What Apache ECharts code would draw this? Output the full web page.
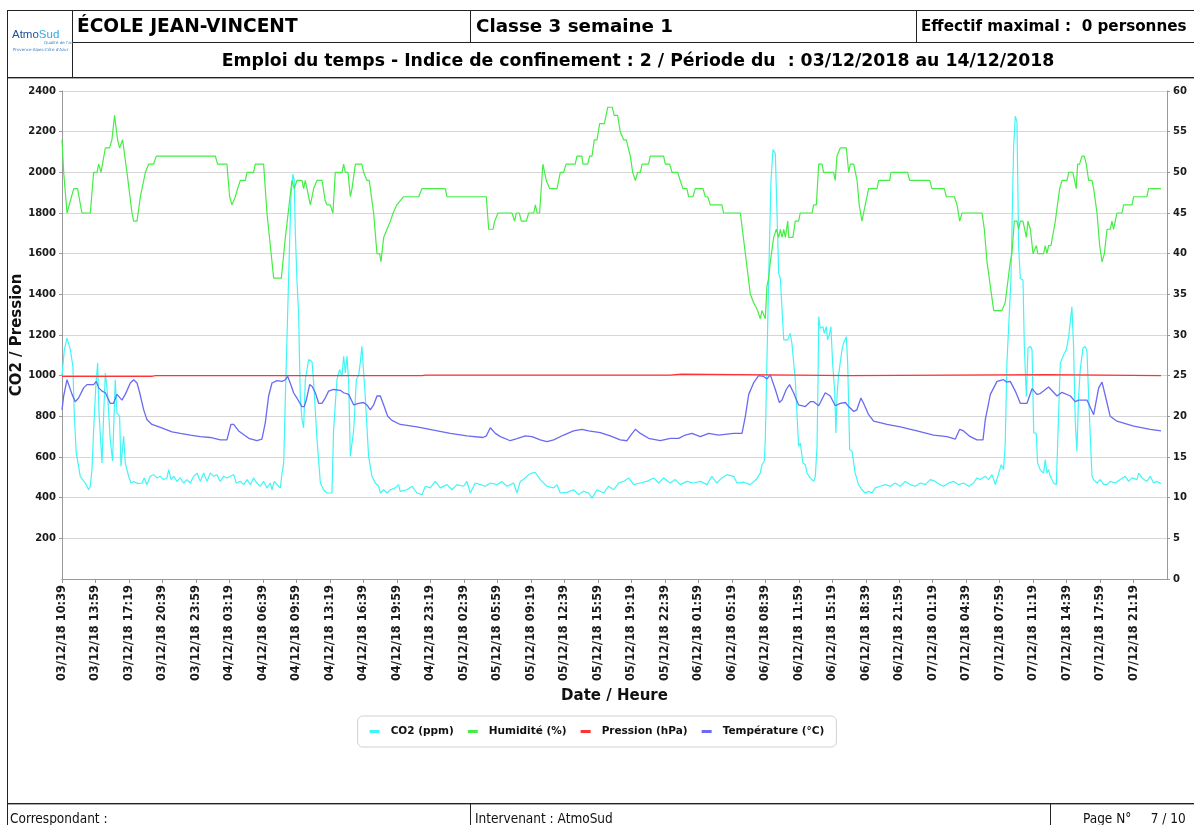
<!DOCTYPE html>
<html>
<head>
<meta charset="utf-8">
<script src="https://cdn.jsdelivr.net/npm/echarts@6/dist/echarts.min.js"></script>
<style>
html,body{margin:0;padding:0;background:#fff;}
body{width:1194px;height:825px;position:relative;overflow:hidden;font-family:"DejaVu Sans",Verdana,sans-serif;}
#chart{position:absolute;left:0;top:0;width:1194px;height:825px;}
.ln{position:absolute;background:#222;}
.sh{position:absolute;background:#aaa;}
.t{position:absolute;white-space:pre;color:#000;}
.b{font-weight:bold;}
.ft{font-family:"DejaVu Sans Condensed","DejaVu Sans",sans-serif;font-size:13.5px;color:#111;}
</style>
</head>
<body>
<div id="chart"></div>

<!-- header / footer frame -->
<div class="ln" style="left:7px;top:10px;width:1187px;height:1px"></div>
<div class="ln" style="left:72px;top:42px;width:1122px;height:1px"></div>
<div class="ln" style="left:7px;top:77px;width:1187px;height:1px"></div>
<div class="sh" style="left:8px;top:78px;width:1186px;height:1px"></div>
<div class="ln" style="left:7px;top:10px;width:1px;height:815px"></div>
<div class="ln" style="left:72px;top:10px;width:1px;height:67px"></div>
<div class="ln" style="left:470px;top:10px;width:1px;height:32px"></div>
<div class="ln" style="left:916px;top:10px;width:1px;height:32px"></div>
<div class="ln" style="left:7px;top:803px;width:1187px;height:1px"></div>
<div class="sh" style="left:8px;top:804px;width:1186px;height:1px"></div>
<div class="ln" style="left:470px;top:803px;width:1px;height:22px"></div>
<div class="ln" style="left:1050px;top:803px;width:1px;height:22px"></div>

<!-- logo -->
<div class="t" style="left:12px;top:28px;font-family:'Liberation Sans',Arial,sans-serif;font-size:11.5px;line-height:13px;"><span style="color:#1d4f9a">Atmo</span><span style="color:#36a8e0">Sud</span></div>
<div class="t" style="left:44px;top:40px;font-size:4px;color:#3a7fbf;line-height:5px;">Qualité de l'air</div>
<div class="t" style="left:13px;top:47px;font-size:4px;color:#3a7fbf;line-height:5px;">Provence-Alpes-Côte d'Azur</div>

<div class="t b" style="left:77px;top:10px;height:32px;line-height:32px;font-size:18.6px;">ÉCOLE JEAN-VINCENT</div>
<div class="t b" style="left:476px;top:10px;height:32px;line-height:32px;font-size:18.3px;">Classe 3 semaine 1</div>
<div class="t b" style="left:921px;top:10px;height:32px;line-height:32px;font-size:15.2px;">Effectif maximal :  0 personnes</div>
<div class="t b" style="left:72px;width:1132px;text-align:center;top:43px;height:34px;line-height:34px;font-size:17.3px;">Emploi du temps - Indice de confinement : 2 / Période du  : 03/12/2018 au 14/12/2018</div>

<div class="t ft" style="left:10px;top:809px;line-height:18px;">Correspondant :</div>
<div class="t ft" style="left:475px;top:809px;line-height:18px;">Intervenant : AtmoSud</div>
<div class="t ft" style="left:1083px;top:809px;line-height:18px;">Page N°     7 / 10</div>

<script>
// x values are minutes elapsed since 03/12/18 10:39
const tickLabels = ["03/12/18 10:39","03/12/18 13:59","03/12/18 17:19","03/12/18 20:39","03/12/18 23:59",
"04/12/18 03:19","04/12/18 06:39","04/12/18 09:59","04/12/18 13:19","04/12/18 16:39","04/12/18 19:59","04/12/18 23:19",
"05/12/18 02:39","05/12/18 05:59","05/12/18 09:19","05/12/18 12:39","05/12/18 15:59","05/12/18 19:19","05/12/18 22:39",
"06/12/18 01:59","06/12/18 05:19","06/12/18 08:39","06/12/18 11:59","06/12/18 15:19","06/12/18 18:39","06/12/18 21:59",
"07/12/18 01:19","07/12/18 04:39","07/12/18 07:59","07/12/18 11:19","07/12/18 14:39","07/12/18 17:59","07/12/18 21:19"];

const seriesNames = ["CO2 (ppm)","Humidité (%)","Pression (hPa)","Température (°C)"];

const co2Data = [[0,1000],[14,1128],[30,1185],[50,1128],[65,1046],[73,816],[85,620],[99,554],[109,505],[139,472],[159,439],[169,456],[179,538],[189,734],[203,964],[213,1062],[221,816],[239,570],[249,816],[259,1013],[269,1005],[273,898],[288,685],[302,580],[318,980],[328,816],[344,800],[352,554],[368,702],[378,570],[398,505],[412,472],[428,480],[452,469],[478,472],[491,497],[507,464],[527,505],[547,513],[567,497],[587,505],[607,489],[627,497],[637,538],[651,489],[667,505],[687,480],[706,497],[726,472],[746,489],[766,472],[786,505],[806,521],[826,480],[846,521],[866,480],[886,521],[905,505],[925,513],[945,480],[965,505],[985,497],[1005,505],[1025,513],[1041,472],[1065,480],[1085,464],[1105,489],[1125,464],[1144,497],[1164,472],[1184,456],[1204,480],[1224,448],[1244,472],[1254,439],[1268,480],[1284,464],[1304,448],[1314,521],[1324,570],[1334,898],[1353,1470],[1367,1879],[1379,1991],[1387,1961],[1393,1716],[1403,1470],[1413,1307],[1423,898],[1433,784],[1443,743],[1453,980],[1473,1079],[1493,1070],[1503,964],[1523,685],[1543,472],[1562,439],[1582,423],[1612,423],[1622,734],[1642,980],[1658,1030],[1672,997],[1682,1095],[1692,1013],[1702,1095],[1712,964],[1722,603],[1732,595],[1742,734],[1758,980],[1772,1005],[1781,1062],[1791,1144],[1801,1136],[1811,898],[1831,603],[1851,505],[1871,472],[1891,456],[1901,423],[1921,439],[1941,423],[1961,439],[1990,448],[2010,464],[2020,431],[2060,439],[2090,456],[2120,423],[2150,415],[2170,456],[2199,448],[2229,480],[2259,448],[2299,464],[2329,439],[2359,464],[2398,456],[2418,480],[2438,423],[2468,472],[2498,464],[2528,456],[2558,472],[2598,464],[2627,480],[2657,456],[2697,472],[2717,423],[2737,480],[2767,497],[2787,513],[2807,521],[2826,525],[2856,489],[2896,456],[2936,448],[2956,464],[2976,423],[3016,426],[3055,439],[3085,415],[3115,431],[3145,423],[3165,398],[3195,439],[3235,423],[3264,456],[3294,439],[3324,472],[3354,480],[3384,497],[3414,464],[3454,472],[3493,480],[3533,497],[3563,472],[3593,497],[3633,472],[3662,489],[3692,464],[3732,480],[3772,472],[3812,480],[3852,464],[3881,505],[3911,472],[3941,497],[3971,513],[4011,505],[4031,472],[4071,476],[4110,464],[4146,489],[4170,521],[4180,562],[4194,579],[4200,685],[4220,1470],[4234,1961],[4246,2112],[4260,2092],[4270,1800],[4280,1503],[4290,1478],[4300,1478],[4310,1176],[4320,1168],[4334,1176],[4349,1208],[4359,1159],[4379,979],[4399,653],[4409,669],[4425,570],[4439,562],[4449,521],[4469,497],[4489,480],[4499,505],[4509,652],[4515,980],[4519,1290],[4528,1233],[4544,1241],[4552,1208],[4564,1241],[4572,1176],[4584,1208],[4592,1241],[4602,1061],[4614,931],[4622,718],[4628,898],[4638,1005],[4648,997],[4658,1128],[4668,1161],[4684,1192],[4692,1062],[4704,636],[4718,628],[4728,620],[4737,521],[4757,464],[4777,439],[4797,423],[4817,431],[4837,423],[4857,448],[4887,456],[4917,464],[4947,456],[4976,472],[5006,456],[5036,480],[5066,464],[5096,456],[5126,472],[5156,464],[5185,489],[5215,480],[5245,464],[5265,456],[5295,472],[5325,480],[5355,464],[5384,472],[5414,456],[5444,472],[5464,497],[5484,489],[5514,505],[5534,489],[5554,513],[5574,464],[5594,521],[5609,562],[5623,538],[5633,669],[5643,1062],[5667,1470],[5683,2125],[5693,2276],[5703,2248],[5713,1634],[5723,1478],[5739,1470],[5747,1143],[5759,898],[5769,1136],[5783,1144],[5793,1128],[5803,718],[5818,718],[5826,570],[5842,538],[5862,521],[5872,587],[5882,521],[5892,538],[5902,505],[5922,472],[5938,464],[5952,816],[5962,1062],[5982,1103],[5998,1128],[6012,1193],[6031,1339],[6041,1143],[6051,775],[6061,628],[6071,898],[6081,1030],[6097,1136],[6111,1144],[6121,1120],[6131,898],[6151,505],[6161,489],[6181,472],[6201,489],[6221,464],[6241,464],[6260,480],[6290,472],[6320,489],[6350,505],[6370,480],[6390,497],[6420,489],[6430,521],[6450,497],[6479,480],[6499,505],[6519,472],[6539,480],[6563,469]];

const humData = [[0,54],[10,50],[30,45],[40,45],[70,48],[93,48],[119,45],[169,45],[189,50],[209,50],[219,51],[233,50],[259,53],[284,53],[298,54],[308,54],[314,57],[324,57],[332,54],[344,53],[362,54],[388,50],[418,45],[428,44],[448,44],[468,47],[498,50],[517,51],[547,51],[563,52],[916,52],[929,51],[985,51],[1001,47],[1015,46],[1035,47],[1049,48],[1065,49],[1095,49],[1105,50],[1144,50],[1154,51],[1204,51],[1224,45],[1254,39],[1264,37],[1310,37],[1334,42],[1344,42],[1373,49],[1387,48],[1403,49],[1433,49],[1443,48],[1453,49],[1463,49],[1483,46],[1503,48],[1523,49],[1553,49],[1572,46.5],[1582,46],[1602,46],[1618,45],[1632,50],[1672,50],[1682,51],[1692,50],[1708,50],[1722,47],[1732,48],[1742,48],[1752,51],[1791,51],[1801,50],[1821,49],[1835,49],[1861,45],[1881,40],[1897,40],[1905,39],[1921,42],[1941,43],[1961,44],[1977,45],[2000,46],[2040,47],[2130,47],[2150,48],[2289,48],[2299,47],[2534,47],[2548,43],[2574,43],[2584,44],[2604,45],[2687,45],[2703,44],[2713,45],[2731,45],[2743,44],[2773,44],[2787,45],[2817,45],[2827,46],[2837,45],[2852,45],[2872,51],[2892,49],[2900,49],[2912,48],[2956,48],[2976,50],[2996,50],[3010,51],[3065,51],[3075,52],[3105,52],[3111,51],[3139,51],[3151,52],[3165,52],[3179,54],[3195,54],[3211,56],[3239,56],[3259,58],[3286,58],[3298,57],[3318,57],[3334,55],[3354,54],[3370,54],[3394,52],[3408,50],[3424,49],[3438,50],[3454,50],[3464,51],[3503,51],[3513,52],[3593,52],[3603,51],[3629,51],[3643,50],[3677,50],[3692,49],[3708,48],[3732,48],[3742,47],[3768,47],[3782,48],[3828,48],[3842,47],[3856,47],[3872,46],[3941,46],[3951,45],[4051,45],[4081,40],[4111,35],[4130,34],[4154,33],[4170,32],[4180,33],[4200,32],[4210,36],[4220,37],[4230,39],[4250,42],[4266,43],[4280,42],[4290,43],[4300,42],[4310,43],[4320,42],[4334,44],[4340,42],[4365,42],[4379,44],[4399,44],[4409,45],[4479,45],[4489,46],[4505,46],[4519,51],[4539,51],[4548,50],[4608,50],[4618,49],[4628,52],[4638,52],[4648,53],[4684,53],[4698,50],[4708,51],[4728,51],[4748,49],[4761,46],[4777,44],[4797,46],[4817,48],[4867,48],[4877,49],[4943,49],[4951,50],[5050,50],[5062,49],[5182,49],[5195,48],[5269,48],[5281,47],[5329,47],[5345,46],[5361,44],[5375,45],[5494,45],[5508,43],[5524,39],[5544,36],[5564,33],[5613,33],[5633,34],[5643,34],[5663,39],[5673,40],[5687,44],[5703,44],[5713,43],[5723,44],[5739,44],[5759,42],[5769,44],[5783,43],[5799,40],[5809,40],[5819,41],[5827,40],[5862,40],[5872,41],[5882,40],[5892,41],[5906,41],[5932,44],[5942,44],[5958,48],[5972,49],[6002,49],[6012,50],[6037,50],[6057,48],[6065,51],[6077,51],[6091,52],[6105,52],[6117,51],[6131,49],[6151,49],[6161,48],[6171,48],[6181,45],[6197,41],[6211,39],[6225,40],[6241,43],[6260,43],[6270,44],[6280,43],[6290,44],[6300,45],[6330,45],[6340,46],[6390,46],[6400,47],[6479,47],[6489,48],[6563,48]];

const presData = [[0,997],[540,997],[560,1000],[2150,1000],[2170,1003],[3630,1003],[3640,1008],[3700,1008],[3710,1003],[4400,1003],[4410,1000],[4700,1000],[4710,1005],[5880,1005],[5890,1000],[6563,1000]];

const tempData = [[0,20.8],[10,22.5],[30,24.5],[40,24.3],[60,22.7],[79,21.8],[99,22.25],[129,23.5],[149,23.9],[189,23.9],[205,24.3],[219,23.5],[239,23.1],[259,22.9],[269,22.9],[288,21.6],[308,21.6],[328,22.7],[338,22.5],[358,22.0],[378,22.7],[408,24.1],[428,24.5],[448,24.1],[464,22.9],[488,20.8],[507,19.6],[537,19.0],[567,18.8],[607,18.5],[657,18.1],[707,17.9],[766,17.7],[826,17.5],[886,17.4],[945,17.1],[985,17.1],[995,17.9],[1009,19.0],[1025,19.0],[1055,18.2],[1115,17.3],[1164,17.0],[1194,17.2],[1214,19.2],[1234,22.5],[1254,24.1],[1284,24.4],[1314,24.3],[1334,24.5],[1348,24.9],[1363,24.1],[1383,22.9],[1403,22.25],[1433,21.2],[1447,21.2],[1459,22.0],[1479,23.9],[1493,23.7],[1513,22.9],[1533,21.6],[1552,21.6],[1572,22.25],[1592,23.1],[1622,23.3],[1662,23.2],[1682,22.9],[1712,22.7],[1742,21.4],[1771,21.6],[1801,21.7],[1821,21.4],[1841,20.8],[1861,21.4],[1881,22.5],[1901,22.5],[1921,21.4],[1945,20.0],[1970,19.5],[2020,19.0],[2120,18.7],[2219,18.3],[2319,17.9],[2418,17.6],[2514,17.4],[2534,17.6],[2558,18.6],[2588,17.9],[2618,17.5],[2677,17.0],[2717,17.25],[2767,17.6],[2807,17.5],[2856,17.1],[2896,16.9],[2936,17.1],[2996,17.7],[3055,18.2],[3105,18.4],[3145,18.2],[3215,18.0],[3274,17.6],[3334,17.1],[3374,17.0],[3394,17.6],[3424,18.4],[3454,17.9],[3503,17.3],[3573,17.0],[3633,17.3],[3683,17.3],[3722,17.7],[3762,17.9],[3812,17.5],[3862,17.9],[3921,17.7],[4011,17.9],[4061,17.9],[4081,20.0],[4101,22.7],[4130,24.1],[4160,25.0],[4190,24.9],[4210,24.6],[4230,25.1],[4260,23.3],[4284,21.7],[4300,22.0],[4325,23.3],[4345,23.9],[4369,22.9],[4399,21.4],[4409,21.3],[4439,21.2],[4469,21.8],[4489,21.8],[4519,21.3],[4558,22.9],[4588,22.5],[4618,21.3],[4648,21.6],[4678,21.7],[4698,21.2],[4728,20.6],[4747,20.8],[4771,22.25],[4787,21.6],[4817,20.2],[4847,19.4],[4927,19.0],[5006,18.7],[5106,18.2],[5205,17.7],[5285,17.5],[5335,17.2],[5361,18.4],[5384,18.2],[5424,17.5],[5464,17.1],[5500,17.1],[5514,19.6],[5544,22.7],[5584,24.3],[5623,24.5],[5643,24.2],[5663,24.3],[5693,23.1],[5723,21.6],[5763,21.6],[5793,23.4],[5822,22.7],[5842,22.8],[5892,23.6],[5942,22.5],[5972,22.95],[6022,22.5],[6051,21.8],[6071,22.0],[6121,22.0],[6161,20.2],[6191,23.5],[6211,24.2],[6231,22.5],[6260,20.0],[6300,19.4],[6400,18.8],[6499,18.4],[6563,18.2]];

const colors = ["#3ff6f6","#44ee44","#ff3333","#6a6af2"];

const chart = echarts.init(document.getElementById('chart'), null, {renderer:'canvas'});
const labelFont = {fontFamily:"DejaVu Sans", fontWeight:"bold", color:"#1a1a1a"};
const plain = function(v){ return String(v); };
chart.setOption({
  animation:false,
  color: colors,
  grid:{left:62, right:27, top:91, bottom:246, containLabel:false, outerBoundsMode:'none'},
  legend:{
    data: seriesNames, top:716, left:'center', icon:'rect', itemWidth:10, itemHeight:3, itemGap:14,
    padding:[10,12,10,12], borderColor:'#d0d0d0', borderWidth:1, borderRadius:5,
    textStyle:{fontFamily:"DejaVu Sans", fontWeight:"bold", fontSize:10.5, color:'#111', padding:[0,0,0,6]}
  },
  xAxis:{
    type:'value', min:0, max:6599, interval:200,
    name:'Date / Heure', nameLocation:'middle', nameGap:110, nameMoveOverlap:false,
    nameTextStyle:{fontFamily:"DejaVu Sans", fontWeight:"bold", fontSize:15, color:'#111'},
    axisLine:{lineStyle:{color:'#999'}},
    axisTick:{length:4, lineStyle:{color:'#999'}},
    splitLine:{show:false},
    axisLabel:Object.assign({rotate:90, fontSize:11.4, margin:6, showMaxLabel:false, hideOverlap:false,
      formatter:function(v){const i=Math.round(v/200); return (Math.abs(v-i*200)<1e-6 && tickLabels[i]) ? tickLabels[i] : '';}}, labelFont)
  },
  yAxis:[{
    type:'value', min:0, max:2400, interval:200, position:'left',
    name:'CO2 / Pression', nameLocation:'middle', nameGap:37, nameRotate:90, nameMoveOverlap:false,
    nameTextStyle:{fontFamily:"DejaVu Sans", fontWeight:"bold", fontSize:15, color:'#111'},
    axisLine:{show:true, lineStyle:{color:'#999'}},
    axisTick:{show:true, length:3, lineStyle:{color:'#999'}},
    splitLine:{show:true, lineStyle:{color:'#d6d6d6', width:1}},
    axisLabel:Object.assign({fontSize:10, margin:6, showMinLabel:false, formatter:plain}, labelFont)
  },{
    type:'value', min:0, max:60, interval:5, position:'right',
    axisLine:{show:true, lineStyle:{color:'#999'}},
    axisTick:{show:true, length:3, lineStyle:{color:'#999'}},
    splitLine:{show:false},
    axisLabel:Object.assign({fontSize:10, margin:6, formatter:plain}, labelFont)
  }],
  series:[
    {name:seriesNames[0], type:'line', yAxisIndex:0, data:co2Data, showSymbol:false, lineStyle:{width:1.2}, z:2},
    {name:seriesNames[1], type:'line', yAxisIndex:1, data:humData, showSymbol:false, lineStyle:{width:1.2}, z:3},
    {name:seriesNames[2], type:'line', yAxisIndex:0, data:presData, showSymbol:false, lineStyle:{width:1.2}, z:4},
    {name:seriesNames[3], type:'line', yAxisIndex:1, data:tempData, showSymbol:false, lineStyle:{width:1.3}, z:5}
  ]
});
</script>
</body>
</html>
